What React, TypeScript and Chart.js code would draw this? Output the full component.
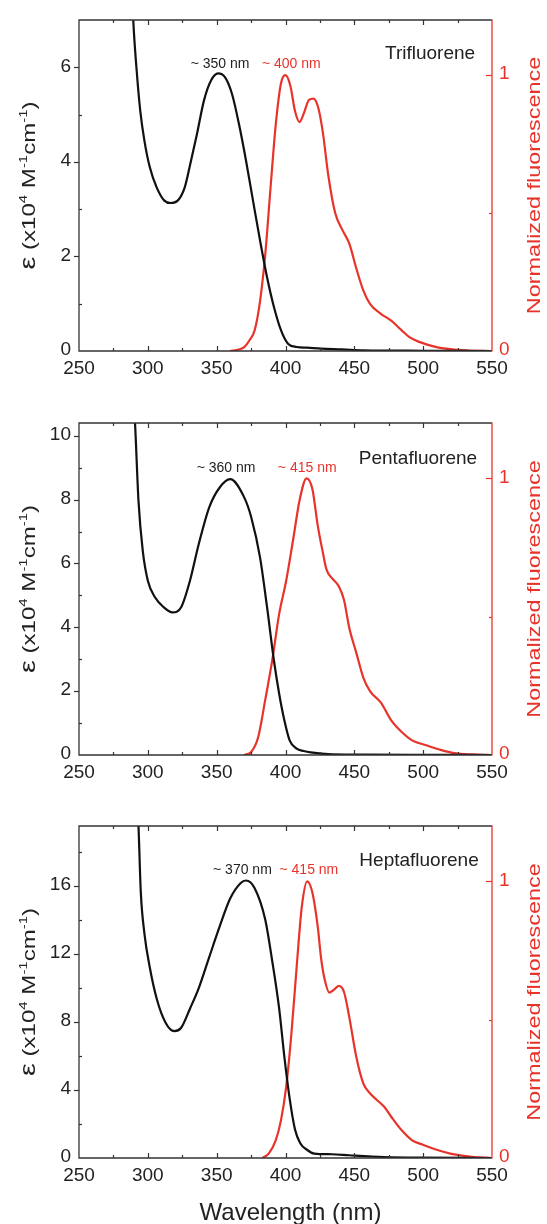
import React, { useEffect, useRef } from "react";
import { Chart, registerables } from "chart.js";

Chart.register(...registerables);

// ---------------- data ----------------
const xMajorTicks = [250, 300, 350, 400, 450, 500, 550];
const xMinorTicks = [275, 325, 375, 425, 475, 525];
const rightMajorTicks = [0, 1];
const rightMinorTicks = [0.5];

// Trifluorene
const triAbsX = [286, 289.4, 291.7, 294.5, 297.5, 301.4, 306.4, 312, 316.6, 321.7, 326.8, 331.4, 335.7, 340.8, 345.9, 351, 356, 361.1, 366.2, 371.3, 376.4, 381.5, 386.6, 391.6, 396.7, 401.8, 408.1, 415.8, 426, 441.2, 456.5, 500, 550];
const triAbsY = [9.5, 7.0, 6.0, 5.08, 4.45, 3.89, 3.46, 3.18, 3.13, 3.18, 3.46, 4.03, 4.59, 5.3, 5.72, 5.87, 5.79, 5.44, 4.8, 4.03, 3.18, 2.34, 1.56, 0.93, 0.44, 0.155, 0.085, 0.07, 0.05, 0.035, 0.015, 0.005, 0];
const triFlX = [359.8, 365, 370, 374, 377.6, 381.5, 385.3, 389.1, 392.9, 396.7, 400, 403.6, 406.9, 410.2, 413.2, 417, 420.3, 423.9, 427.2, 431, 436.1, 441.2, 446.3, 451.4, 456.5, 461.5, 469.2, 476.8, 484.4, 490, 497.1, 509.8, 522.5, 535, 548];
const triFlY = [0, 0.004, 0.014, 0.04, 0.075, 0.18, 0.35, 0.59, 0.82, 0.97, 1.0, 0.96, 0.87, 0.83, 0.86, 0.91, 0.915, 0.88, 0.79, 0.64, 0.5, 0.44, 0.39, 0.3, 0.22, 0.17, 0.135, 0.11, 0.075, 0.05, 0.033, 0.014, 0.005, 0.001, 0];
const triLeftMajor = [0, 2, 4, 6];
const triLeftMinor = [1, 3, 5];

// Pentafluorene
const pentaAbsX = [287, 290.7, 293.2, 296.3, 300, 305.2, 311.5, 317.9, 324.2, 330.6, 337, 344.6, 352.2, 359.8, 370, 375.1, 381.5, 386.6, 391.6, 395.4, 399.2, 403, 408.1, 413.2, 418.3, 433.6, 460, 500, 550];
const pentaAbsY = [13, 10.4, 7.97, 6.4, 5.46, 4.94, 4.63, 4.47, 4.63, 5.46, 6.61, 7.76, 8.38, 8.64, 8.07, 7.45, 6.19, 4.63, 2.96, 1.92, 1.08, 0.46, 0.2, 0.125, 0.08, 0.02, 0.01, 0.005, 0];
const pentaFlX = [370, 375.1, 380.2, 385.3, 390.3, 395.4, 400.5, 405.6, 410.2, 415.3, 419.6, 423.4, 427.2, 429.8, 433.6, 438.7, 442.5, 446.3, 451.4, 456.5, 461.5, 469.2, 476.8, 484.4, 492, 502.2, 512.4, 522.5, 535.2, 550];
const pentaFlY = [0, 0.011, 0.065, 0.2, 0.34, 0.51, 0.63, 0.78, 0.92, 1.0, 0.96, 0.83, 0.73, 0.67, 0.64, 0.61, 0.56, 0.46, 0.37, 0.28, 0.23, 0.19, 0.125, 0.083, 0.053, 0.035, 0.019, 0.007, 0.002, 0];
const pentaLeftMajor = [0, 2, 4, 6, 8, 10];
const pentaLeftMinor = [1, 3, 5, 7, 9];

// Heptafluorene
const heptaAbsX = [290, 293.2, 294.9, 297.5, 301.4, 306.4, 312.8, 319.2, 324.2, 330.6, 337, 344.6, 352.2, 359.8, 367.5, 371.3, 377.6, 385.3, 390.3, 395.4, 399.2, 403, 406.9, 410.7, 415.8, 420.9, 433.6, 446.3, 471.7, 497, 550];
const heptaAbsY = [24, 19.5, 15.6, 13.2, 11.2, 9.37, 7.96, 7.45, 7.65, 8.77, 9.98, 11.8, 13.6, 15.24, 16.15, 16.3, 15.85, 14.0, 11.6, 8.77, 5.93, 3.5, 1.68, 0.87, 0.47, 0.26, 0.22, 0.16, 0.06, 0.02, 0];
const heptaFlX = [383.2, 387.8, 392.9, 396.7, 400.5, 404.3, 408.1, 411.9, 415.8, 419.6, 423.4, 426, 428.5, 431.8, 434.9, 438.7, 442.5, 446.3, 451.4, 456.5, 461.5, 466.6, 471.7, 476.8, 484.4, 492, 499.7, 509.8, 522.5, 535.2, 550];
const heptaFlY = [0, 0.016, 0.064, 0.136, 0.257, 0.45, 0.69, 0.91, 1.0, 0.958, 0.837, 0.716, 0.644, 0.598, 0.607, 0.622, 0.6, 0.51, 0.366, 0.27, 0.233, 0.209, 0.185, 0.149, 0.1, 0.064, 0.048, 0.03, 0.013, 0.004, 0];
const heptaLeftMajor = [0, 4, 8, 12, 16];
const heptaLeftMinor = [2, 6, 10, 14, 18];

// ---------------- styling ----------------
const FONT = '"Liberation Sans", Arial, Helvetica, sans-serif';
const RED = "#e8332b";
const BLACK = "#111111";
const AXIS = "#333333";
const TEXT = "#222222";
const W = 547;

type Note = { text: string; x: number; y: number; color: string; size: number };

type PanelCfg = {
  top: number;
  height: number;
  padTop: number;
  padBottom: number;
  yMax: number;
  absX: number[];
  absY: number[];
  flX: number[];
  flY: number[];
  leftMajor: number[];
  leftMinor: number[];
  notes: Note[];
  xTitle: boolean;
};

const panels: PanelCfg[] = [
  {
    top: 0, height: 400, padTop: 20, padBottom: 49, yMax: 7,
    absX: triAbsX, absY: triAbsY, flX: triFlX, flY: triFlY,
    leftMajor: triLeftMajor, leftMinor: triLeftMinor,
    notes: [
      { text: "~ 350 nm", x: 352.5, y: 6.07, color: TEXT, size: 14 },
      { text: "~ 400 nm", x: 404.2, y: 6.07, color: RED, size: 14 },
      { text: "Trifluorene", x: 505, y: 6.29, color: TEXT, size: 19 },
    ],
    xTitle: false,
  },
  {
    top: 400, height: 400, padTop: 23, padBottom: 45, yMax: 10.4,
    absX: pentaAbsX, absY: pentaAbsY, flX: pentaFlX, flY: pentaFlY,
    leftMajor: pentaLeftMajor, leftMinor: pentaLeftMinor,
    notes: [
      { text: "~ 360 nm", x: 356.8, y: 9.0, color: TEXT, size: 14 },
      { text: "~ 415 nm", x: 415.8, y: 8.98, color: RED, size: 14 },
      { text: "Pentafluorene", x: 496.2, y: 9.28, color: TEXT, size: 19 },
    ],
    xTitle: false,
  },
  {
    top: 800, height: 424, padTop: 26, padBottom: 66, yMax: 19.5,
    absX: heptaAbsX, absY: heptaAbsY, flX: heptaFlX, flY: heptaFlY,
    leftMajor: heptaLeftMajor, leftMinor: heptaLeftMinor,
    notes: [
      { text: "~ 370 nm", x: 368.7, y: 16.9, color: TEXT, size: 14 },
      { text: "~ 415 nm", x: 417, y: 16.9, color: RED, size: 14 },
      { text: "Heptafluorene", x: 497, y: 17.47, color: TEXT, size: 19 },
    ],
    xTitle: true,
  },
];

const STRETCH = 1.3;

function drawDecor(chart: any, cfg: PanelCfg) {
  const ctx: CanvasRenderingContext2D = chart.ctx;
  const { left, right, top, bottom } = chart.chartArea;
  const xs = chart.scales.x;
  const yl = chart.scales.y;
  const yr = chart.scales.y2;
  ctx.save();

  // frame
  ctx.lineWidth = 1.3;
  ctx.strokeStyle = AXIS;
  ctx.beginPath();
  ctx.moveTo(right, top);
  ctx.lineTo(left, top);
  ctx.lineTo(left, bottom);
  ctx.lineTo(right, bottom);
  ctx.stroke();
  ctx.strokeStyle = RED;
  ctx.beginPath();
  ctx.moveTo(right, top - 0.6);
  ctx.lineTo(right, bottom + 0.6);
  ctx.stroke();

  // x ticks (inward, top and bottom)
  ctx.strokeStyle = AXIS;
  ctx.lineWidth = 1.2;
  const xt = (vals: number[], len: number) => {
    vals.forEach((v) => {
      const px = Math.round(xs.getPixelForValue(v)) + 0.5;
      if (v === 250 || v === 550) return;
      ctx.beginPath();
      ctx.moveTo(px, bottom);
      ctx.lineTo(px, bottom - len);
      ctx.moveTo(px, top);
      ctx.lineTo(px, top + len);
      ctx.stroke();
    });
  };
  xt(xMajorTicks, 5);
  xt(xMinorTicks, 3);

  // left ticks
  cfg.leftMajor.forEach((v) => {
    if (v === 0) return;
    const py = Math.round(yl.getPixelForValue(v)) + 0.5;
    ctx.beginPath();
    ctx.moveTo(left - 5, py);
    ctx.lineTo(left, py);
    ctx.stroke();
  });
  cfg.leftMinor.forEach((v) => {
    const py = Math.round(yl.getPixelForValue(v)) + 0.5;
    if (py < top + 1) return;
    ctx.beginPath();
    ctx.moveTo(left, py);
    ctx.lineTo(left + 3, py);
    ctx.stroke();
  });

  // right ticks (inward, red)
  ctx.strokeStyle = RED;
  rightMajorTicks.forEach((v) => {
    if (v === 0) return;
    const py = Math.round(yr.getPixelForValue(v)) + 0.5;
    ctx.beginPath();
    ctx.moveTo(right - 6, py);
    ctx.lineTo(right, py);
    ctx.stroke();
  });
  rightMinorTicks.forEach((v) => {
    const py = Math.round(yr.getPixelForValue(v)) + 0.5;
    ctx.beginPath();
    ctx.moveTo(right - 3, py);
    ctx.lineTo(right, py);
    ctx.stroke();
  });

  // tick labels
  ctx.font = `19px ${FONT}`;
  ctx.fillStyle = TEXT;
  ctx.textAlign = "center";
  ctx.textBaseline = "alphabetic";
  xMajorTicks.forEach((v) => {
    ctx.fillText(String(v), xs.getPixelForValue(v), bottom + 23);
  });
  ctx.textAlign = "right";
  ctx.textBaseline = "middle";
  cfg.leftMajor.forEach((v) => {
    ctx.fillText(String(v), left - 8, yl.getPixelForValue(v) - 1);
  });
  ctx.fillStyle = RED;
  ctx.textAlign = "left";
  rightMajorTicks.forEach((v) => {
    ctx.fillText(String(v), right + 7, yr.getPixelForValue(v) - 1);
  });

  // annotations
  cfg.notes.forEach((n) => {
    ctx.font = `${n.size}px ${FONT}`;
    ctx.fillStyle = n.color;
    ctx.textAlign = "center";
    ctx.textBaseline = "middle";
    ctx.fillText(n.text, xs.getPixelForValue(n.x), yl.getPixelForValue(n.y));
  });

  const midY = (top + bottom) / 2;

  // right title (rotated, reading bottom to top)
  ctx.save();
  ctx.translate(540, midY);
  ctx.rotate(-Math.PI / 2);
  ctx.scale(STRETCH, 1);
  ctx.font = `18px ${FONT}`;
  ctx.fillStyle = RED;
  ctx.textAlign = "center";
  ctx.textBaseline = "alphabetic";
  ctx.fillText("Normalized fluorescence", 0, 0);
  ctx.restore();

  // left title with superscripts
  const fs = 18.5;
  const segs = [
    { t: "ε", s: 1.2, sup: false },
    { t: " (x10", s: 1, sup: false },
    { t: "4", s: 0.62, sup: true },
    { t: " M", s: 1, sup: false },
    { t: "-1", s: 0.62, sup: true },
    { t: "cm", s: 1, sup: false },
    { t: "-1", s: 0.62, sup: true },
    { t: ")", s: 1, sup: false },
  ];
  ctx.save();
  ctx.translate(34.5, midY);
  ctx.rotate(-Math.PI / 2);
  ctx.scale(STRETCH, 1);
  ctx.fillStyle = TEXT;
  ctx.textAlign = "left";
  ctx.textBaseline = "alphabetic";
  let total = 0;
  const widths = segs.map((sg) => {
    ctx.font = `${fs * sg.s}px ${FONT}`;
    const w = ctx.measureText(sg.t).width;
    total += w;
    return w;
  });
  let cx = -total / 2;
  segs.forEach((sg, i) => {
    ctx.font = `${fs * sg.s}px ${FONT}`;
    ctx.fillText(sg.t, cx, sg.sup ? -fs * 0.42 : 0);
    cx += widths[i];
  });
  ctx.restore();

  // x title
  if (cfg.xTitle) {
    ctx.font = `24px ${FONT}`;
    ctx.fillStyle = TEXT;
    ctx.textAlign = "center";
    ctx.textBaseline = "alphabetic";
    ctx.fillText("Wavelength (nm)", (left + right) / 2 + 5, bottom + 62);
  }

  ctx.restore();
}

function Panel({ cfg }: { cfg: PanelCfg }) {
  const ref = useRef<HTMLCanvasElement>(null);
  useEffect(() => {
    const canvas = ref.current;
    if (!canvas) return;
    const absData = cfg.absX.map((x, i) => ({ x, y: cfg.absY[i] }));
    const flData = cfg.flX.map((x, i) => ({ x, y: cfg.flY[i] }));
    const chart = new Chart(canvas, {
      type: "line",
      data: {
        datasets: [
          {
            label: "absorption",
            data: absData,
            borderColor: BLACK,
            borderWidth: 2.2,
            pointRadius: 0,
            fill: false,
            cubicInterpolationMode: "monotone",
            yAxisID: "y",
          },
          {
            label: "fluorescence",
            data: flData,
            borderColor: RED,
            borderWidth: 2.2,
            pointRadius: 0,
            fill: false,
            cubicInterpolationMode: "monotone",
            yAxisID: "y2",
          },
        ],
      },
      options: {
        responsive: false,
        animation: false,
        devicePixelRatio: 1,
        layout: {
          padding: { left: 79, right: W - 492, top: cfg.padTop, bottom: cfg.padBottom },
        },
        plugins: {
          legend: { display: false },
          tooltip: { enabled: false },
        },
        events: [],
        scales: {
          x: { type: "linear", min: 250, max: 550, display: false },
          y: { type: "linear", min: 0, max: cfg.yMax, display: false },
          y2: { type: "linear", min: 0, max: 1.2, display: false, position: "right" },
        },
      },
      plugins: [
        {
          id: "decor",
          afterDraw: (c: any) => drawDecor(c, cfg),
        },
      ],
    } as any);
    return () => chart.destroy();
  }, [cfg]);
  return (
    <canvas
      ref={ref}
      width={W}
      height={cfg.height}
      style={{ position: "absolute", left: 0, top: cfg.top, width: W, height: cfg.height }}
    />
  );
}

export default function App() {
  return (
    <div style={{ position: "absolute", left: 0, top: 0, width: W, height: 1224, background: "#fff" }}>
      {panels.map((p, i) => (
        <Panel key={i} cfg={p} />
      ))}
    </div>
  );
}
